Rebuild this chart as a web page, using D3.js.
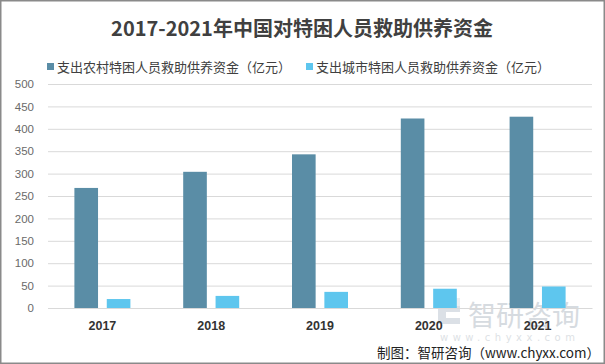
<!DOCTYPE html>
<html><head><meta charset="utf-8">
<script src="https://cdn.jsdelivr.net/npm/d3@7"></script>
<style>body{margin:0;background:#fff}svg{display:block}</style>
</head><body>
<svg id="c" width="605" height="364"></svg>
<script>
const years = ["2017","2018","2019","2020","2021"];
const rural = [268, 304, 343, 423, 427];
const urban = [20, 27, 36, 43, 48];
const seriesNames = ["支出农村特困人员救助供养资金（亿元）","支出城市特困人员救助供养资金（亿元）"];
const colors = ["#5a8da6","#5ec6ee"];
const yTicks = [0,50,100,150,200,250,300,350,400,450,500];

(function(){
const svg = d3.select("#c");
const W=605,H=364;
svg.append("rect").attr("x",0.75).attr("y",0.75).attr("width",W-1.5).attr("height",H-1.5)
  .attr("fill","#fff").attr("stroke","#8a8a8a").attr("stroke-width",1.5);

const font = "'Noto Sans CJK SC','Microsoft YaHei',sans-serif";
svg.append("text").attr("x",302).attr("y",36).attr("text-anchor","middle")
  .attr("font-family",font).attr("font-weight","bold").attr("font-size",20).attr("fill","#404040")
  .text("2017-2021年中国对特困人员救助供养资金");

// legend
const leg = [{x:47,t:seriesNames[0],c:colors[0]},{x:306,t:seriesNames[1],c:colors[1]}];
leg.forEach(l=>{
  svg.append("rect").attr("x",l.x).attr("y",63).attr("width",7).attr("height",7).attr("fill",l.c);
  svg.append("text").attr("x",l.x+10).attr("y",72).attr("font-family",font).attr("font-size",13)
    .attr("fill","#404040").text(l.t);
});

const pL=48,pR=592,pT=84,pB=308;
const x = d3.scaleBand().domain(years).range([pL,pR]);
const y = d3.scaleLinear().domain([0,500]).range([pB,pT]);
const x1 = d3.scaleBand().domain([0,1]).range([0,56]).paddingInner(0.27);

// watermark
const wm = svg.append("g").attr("opacity",0.35);
wm.append("path").attr("d","M438,302 h22 v10 h-14 v6 h14 v6 h-22 z").attr("fill","#9aa9b8");
wm.append("path").attr("d","M446,298 h14 v8 h-14 z").attr("fill","#c8d2dc");
wm.append("text").attr("x",468).attr("y",326).attr("font-family",font).attr("font-size",28)
  .attr("fill","#8c9aa8").text("智研咨询");
wm.append("text").attr("x",440).attr("y",341).attr("font-family","'DejaVu Sans',sans-serif").attr("font-size",10)
  .attr("fill","#a0aab4").attr("letter-spacing",4.5).text("www.chyxx.com");

// grid
const yAxis = d3.axisLeft(y).tickValues(yTicks).tickSize(-(pR-pL)).tickPadding(14);
const ga = svg.append("g").attr("transform",`translate(${pL},0)`).call(yAxis);
ga.select(".domain").remove();
ga.selectAll(".tick line").attr("stroke","#d9d9d9").attr("stroke-width",1);
ga.selectAll(".tick text").attr("font-family","'Liberation Sans','DejaVu Sans',sans-serif")
  .attr("font-size",11.5).attr("fill","#6a6a6a");

// bars
const g = svg.append("g");
years.forEach((yr,i)=>{
  const gx = x(yr)+ (x.bandwidth()-56)/2;
  [rural[i],urban[i]].forEach((v,j)=>{
    g.append("rect").attr("x",gx+x1(j)).attr("y",y(v)).attr("width",x1.bandwidth())
      .attr("height",y(0)-y(v)).attr("fill",colors[j]);
  });
});

// x axis
const xa = svg.append("g").attr("transform",`translate(0,${pB})`)
  .call(d3.axisBottom(x).tickSize(0).tickPadding(13));
xa.select(".domain").attr("stroke","#d9d9d9");
xa.selectAll(".tick text").attr("font-family","'Liberation Sans','DejaVu Sans',sans-serif")
  .attr("font-weight","bold").attr("font-size",12.5).attr("fill","#333");

svg.append("text").attr("x",600).attr("y",358).attr("text-anchor","end")
  .attr("font-family",font).attr("font-size",13.5).attr("fill","#222")
  .text("制图：智研咨询（www.chyxx.com）");
})();
</script>
</body></html>
